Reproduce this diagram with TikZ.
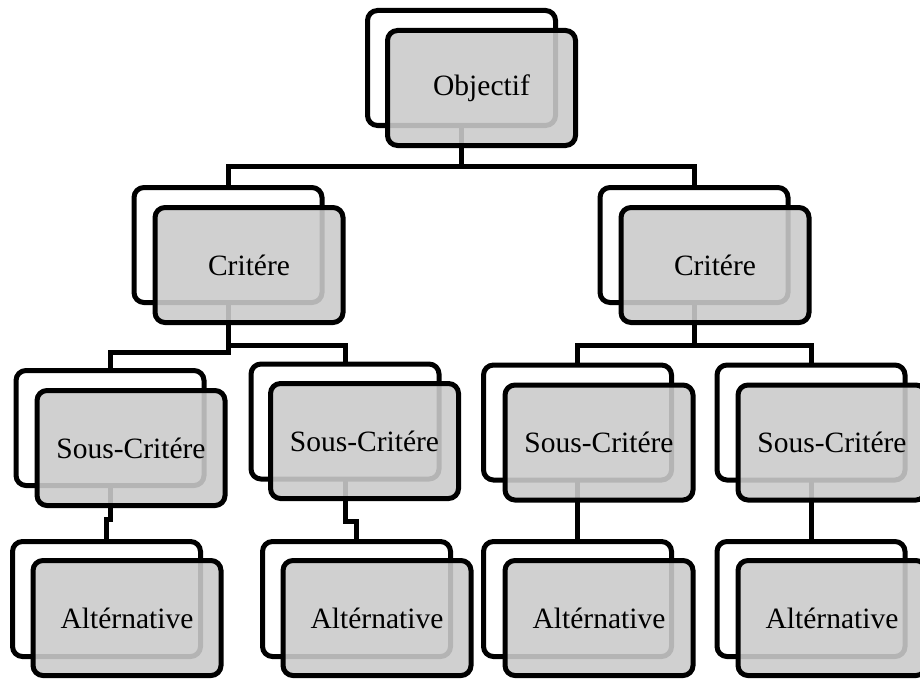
\documentclass[tikz,border=0pt]{standalone}
\usepackage{fontspec}
\setmainfont{Liberation Serif}
\definecolor{boxgray}{RGB}{203,203,203}
\begin{document}
\begin{tikzpicture}[x=1pt,y=-1pt,
  backbox/.style={draw=black, line width=5pt, rounded corners=10pt, fill=white,
    minimum width=188pt, minimum height=115pt, inner sep=0pt, outer sep=0pt},
  frontbox/.style={draw=black, line width=5pt, rounded corners=10pt, fill=boxgray,
    fill opacity=0.89, text opacity=1, draw opacity=1,
    minimum width=188pt, minimum height=115pt, inner sep=0pt, outer sep=0pt,
    font=\fontsize{29.5}{34}\selectfont},
  conn/.style={draw=black, line width=5pt}]
\clip (0,0) rectangle (920,682);
\fill[white] (0,0) rectangle (920,682);
% back boxes
\node[backbox] (Ob) at (461.5,68) {};
\node[backbox] (C1b) at (228,245) {};
\node[backbox] (C2b) at (694,245) {};
\node[backbox] (S1b) at (110,428) {};
\node[backbox] (S2b) at (345,421.5) {};
\node[backbox] (S3b) at (577.5,422.5) {};
\node[backbox] (S4b) at (811,422.5) {};
\node[backbox] (A1b) at (106.5,599) {};
\node[backbox] (A2b) at (356.5,599) {};
\node[backbox] (A3b) at (577.5,599) {};
\node[backbox] (A4b) at (811,599) {};
% bus levels
\coordinate (bus1) at (0,166);
\coordinate (bus2) at (0,345);
\coordinate (bus2b) at (0,352);
\coordinate (bus3) at (0,345);
% connectors
\draw[conn] (Ob.south) -- (Ob.south |- bus1) -| (C1b.north);
\draw[conn] (Ob.south |- bus1) -| (C2b.north);
\draw[conn] (C1b.south) -- (C1b.south |- bus2) -| (S2b.north);
\draw[conn] (C1b.south |- bus2) -- (C1b.south |- bus2b) -| (S1b.north);
\draw[conn] (C2b.south) -- (C2b.south |- bus3) -| (S3b.north);
\draw[conn] (C2b.south |- bus3) -| (S4b.north);
\draw[conn] (S1b.south) -- ++(0,34) -| (A1b.north);
\draw[conn] (S2b.south) -- ++(0,42) -| (A2b.north);
\draw[conn] (S3b.south) -- (A3b.north);
\draw[conn] (S4b.south) -- (A4b.north);
% front boxes
\node[frontbox] (Of) at (481.5,88) {Objectif};
\node[frontbox] (C1f) at (249,265) {Critére};
\node[frontbox] (C2f) at (715,265) {Critére};
\node[frontbox] (S1f) at (131,448) {Sous-Critére};
\node[frontbox] (S2f) at (364.5,441) {Sous-Critére};
\node[frontbox] (S3f) at (599,442.5) {Sous-Critére};
\node[frontbox] (S4f) at (832,442.5) {Sous-Critére};
\node[frontbox] (A1f) at (127,618) {Altérnative};
\node[frontbox] (A2f) at (377,618) {Altérnative};
\node[frontbox] (A3f) at (599,618) {Altérnative};
\node[frontbox] (A4f) at (832,618) {Altérnative};
\end{tikzpicture}
\end{document}
